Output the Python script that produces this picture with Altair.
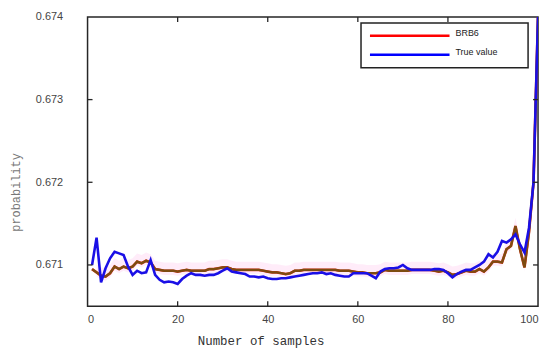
import altair as alt
import pandas as pd

samples = list(range(1, 101))

true_value = [
    0.67100, 0.67133, 0.67079, 0.67096, 0.67108, 0.67116, 0.67114, 0.67112, 0.67098, 0.67088,
    0.67093, 0.67090, 0.67091, 0.67106, 0.67088, 0.67082, 0.67079, 0.67080, 0.67079, 0.67077,
    0.67083, 0.67087, 0.67090, 0.67088, 0.67088, 0.67087, 0.67088, 0.67088, 0.67090, 0.67093,
    0.67096, 0.67092, 0.67091, 0.67090, 0.67089, 0.67086, 0.67086, 0.67085, 0.67086, 0.67084,
    0.67083, 0.67083, 0.67084, 0.67084, 0.67085, 0.67086, 0.67087, 0.67088, 0.67089, 0.67090,
    0.67090, 0.67091, 0.67089, 0.67090, 0.67088, 0.67087, 0.67086, 0.67086, 0.67090, 0.67090,
    0.67090, 0.67090, 0.67087, 0.67084, 0.67092, 0.67095, 0.67096, 0.67096, 0.67097, 0.67100,
    0.67096, 0.67094, 0.67094, 0.67094, 0.67094, 0.67094, 0.67095, 0.67095, 0.67094, 0.67090,
    0.67085, 0.67089, 0.67092, 0.67094, 0.67094, 0.67097, 0.67100, 0.67104, 0.67113, 0.67109,
    0.67116, 0.67129, 0.67127, 0.67131, 0.67137, 0.67125, 0.67115, 0.67145, 0.67200, 0.67400,
]

brb6 = [
    0.67095, 0.67091, 0.67087, 0.67086, 0.67090, 0.67098, 0.67095, 0.67098, 0.67096, 0.67098,
    0.67104, 0.67102, 0.67105, 0.67103, 0.67095, 0.67094, 0.67093, 0.67093, 0.67093, 0.67092,
    0.67093, 0.67094, 0.67093, 0.67093, 0.67093, 0.67093, 0.67095, 0.67095, 0.67096, 0.67097,
    0.67097, 0.67095, 0.67094, 0.67094, 0.67094, 0.67094, 0.67094, 0.67094, 0.67093, 0.67092,
    0.67091, 0.67091, 0.67090, 0.67089, 0.67090, 0.67093, 0.67093, 0.67094, 0.67094, 0.67094,
    0.67094, 0.67094, 0.67094, 0.67094, 0.67094, 0.67093, 0.67093, 0.67093, 0.67092, 0.67091,
    0.67091, 0.67090, 0.67090, 0.67090, 0.67091, 0.67094, 0.67093, 0.67093, 0.67093, 0.67093,
    0.67093, 0.67094, 0.67094, 0.67094, 0.67094, 0.67094, 0.67093, 0.67092, 0.67093, 0.67091,
    0.67088, 0.67089, 0.67091, 0.67093, 0.67092, 0.67092, 0.67095, 0.67092, 0.67097, 0.67104,
    0.67104, 0.67103, 0.67119, 0.67123, 0.67147, 0.67119, 0.67097, 0.67140, 0.67200, 0.67400,
]

x_ticks = [0, 20, 40, 60, 80, 100]
y_ticks = [0.671, 0.672, 0.673, 0.674]
legend_labels = ["BRB6", "True value"]

W, H = 453, 291
Y_DOMAIN = [0.6705, 0.674]

df = pd.DataFrame({"x": samples, "true": true_value, "brb6": brb6})

xs = alt.Scale(domain=[0, 100], nice=False, zero=False)
ys = alt.Scale(domain=Y_DOMAIN, nice=False, zero=False)

x_axis = alt.Axis(
    values=x_ticks, title="Number of samples", grid=False, domain=False, ticks=False,
    labelFont="Liberation Sans", labelFontSize=11, labelColor="#444", labelPadding=7,
    titleFont="Liberation Mono", titleFontSize=12.5, titleFontWeight="normal", titleColor="#333",
    titleX=174, titleY=38, titleBaseline="alphabetic", titleAlign="center",
)
y_axis = alt.Axis(
    values=y_ticks, format=".3f", title="probability", grid=False, domain=False, ticks=False,
    labelFont="Liberation Sans", labelFontSize=11, labelColor="#444", labelPadding=25,
    titleFont="Liberation Mono", titleFontSize=12, titleFontWeight="normal", titleColor="#777",
    titleX=-68, titleY=176, titleBaseline="alphabetic", titleAngle=-90, titleAlign="center",
)

base = alt.Chart(df)

band = base.transform_filter("datum.x >= 2 && datum.x <= 97").transform_calculate(
    lo="datum.brb6 - 0.00005", hi="datum.brb6 + 0.0001"
).mark_area(color="#ff66cc", opacity=0.12, clip=True).encode(
    x=alt.X("x:Q", scale=xs, axis=x_axis),
    y=alt.Y("hi:Q", scale=ys, axis=y_axis),
    y2="lo:Q",
)

red_under = base.mark_line(color="#d8301a", strokeWidth=2.7, clip=True).encode(
    x=alt.X("x:Q", scale=xs), y=alt.Y("brb6:Q", scale=ys)
)
brown = base.mark_line(color="#7d4c10", strokeWidth=2.3, clip=True).encode(
    x=alt.X("x:Q", scale=xs), y=alt.Y("brb6:Q", scale=ys)
)
blue = base.mark_line(color="#1a0fe6", strokeWidth=2.6, clip=True).encode(
    x=alt.X("x:Q", scale=xs), y=alt.Y("true:Q", scale=ys)
)

xt = alt.Chart(pd.DataFrame({"t": x_ticks[1:-1]}))
yt = alt.Chart(pd.DataFrame({"t": y_ticks[:-1]}))
tick_style = dict(color="#262626", strokeWidth=1.3)
ticks = alt.layer(
    xt.mark_rule(**tick_style).encode(x=alt.X("t:Q", scale=xs), y=alt.value(H), y2=alt.value(H - 5)),
    xt.mark_rule(**tick_style).encode(x=alt.X("t:Q", scale=xs), y=alt.value(0), y2=alt.value(5)),
    yt.mark_rule(**tick_style).encode(y=alt.Y("t:Q", scale=ys), x=alt.value(0), x2=alt.value(5)),
    yt.mark_rule(**tick_style).encode(y=alt.Y("t:Q", scale=ys), x=alt.value(W), x2=alt.value(W - 5)),
)

# legend
leg_df = pd.DataFrame({"label": legend_labels, "color": ["#ff0000", "#0000ff"], "ly": [19, 38]})
leg_box = alt.Chart(pd.DataFrame({"a": [1]})).mark_rect(
    fill="white", stroke="#222", strokeWidth=1.5
).encode(x=alt.value(275), x2=alt.value(443), y=alt.value(6), y2=alt.value(51))
leg_lines = alt.Chart(leg_df).mark_rule(strokeWidth=2.5).encode(
    x=alt.value(284), x2=alt.value(364), y=alt.Y("ly:Q", scale=None),
    color=alt.Color("color:N", scale=None, legend=None),
)
leg_text = alt.Chart(leg_df).mark_text(
    align="left", baseline="middle", font="Liberation Sans", fontSize=9, color="#222", dy=-3
).encode(x=alt.value(370), y=alt.Y("ly:Q", scale=None), text="label:N")

chart = alt.layer(band, red_under, brown, blue, ticks, leg_box, leg_lines, leg_text).properties(
    width=W, height=H,
    autosize=alt.AutoSizeParams(type="none"),
    padding={"left": 80, "top": 8, "right": 4, "bottom": 46},
).configure(
    background="white",
    view=alt.ViewConfig(stroke="#262626", strokeWidth=1.5),
)

chart.save("out.html", embed_options={"renderer": "svg", "actions": False})
